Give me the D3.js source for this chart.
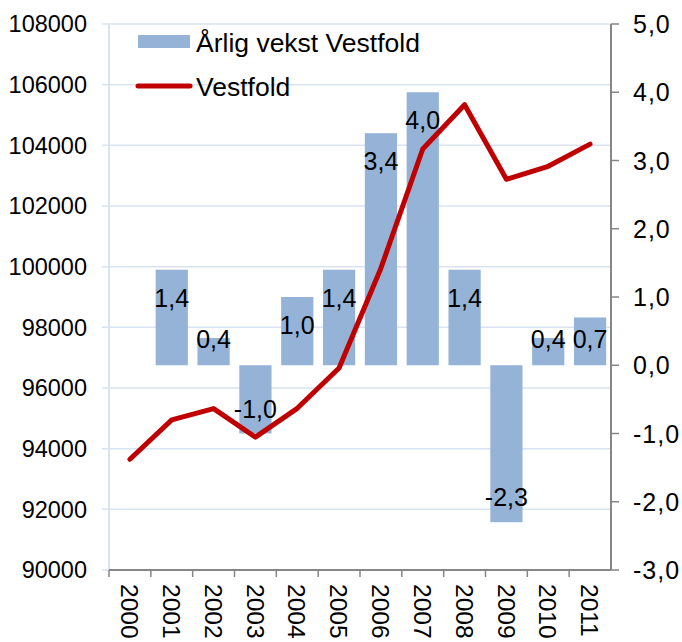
<!DOCTYPE html>
<html lang="no">
<head>
<meta charset="UTF-8">
<title>Vestfold</title>
<script src="https://cdn.jsdelivr.net/npm/d3@7/dist/d3.min.js"></script>
<style>
    body { margin: 0; background: #fff; }
    text { font-family: "Liberation Sans", Arial, sans-serif; fill: #000; }
</style>
</head>
<body>
<svg id="chart"></svg>
<script>

    // Data
    var years = ["2000", "2001", "2002", "2003", "2004", "2005", "2006", "2007", "2008", "2009", "2010", "2011"];
    var population = [93650, 94950, 95320, 94380, 95330, 96660, 99950, 103880, 105340, 102880, 103310, 104040];
    var growth = [null, 1.4, 0.4, -1.0, 1.0, 1.4, 3.4, 4.0, 1.4, -2.3, 0.4, 0.7];
    var leftTicks = [90000, 92000, 94000, 96000, 98000, 100000, 102000, 104000, 106000, 108000];
    var rightTicks = [-3, -2, -1, 0, 1, 2, 3, 4, 5];

    var width = 682, height = 642;
    var plotLeft = 109, plotRight = 611, plotTop = 24, plotBottom = 570;

    var svg = d3.select("#chart").attr("width", width).attr("height", height);

    var x = d3.scaleBand().domain(years).range([plotLeft, plotRight]).paddingInner(0.23).paddingOuter(0.115);
    var band = d3.scaleBand().domain(years).range([plotLeft, plotRight]);
    var yL = d3.scaleLinear().domain([90000, 108000]).range([plotBottom, plotTop]);
    var yR = d3.scaleLinear().domain([-3, 5]).range([plotBottom, plotTop]);

    var gridColor = "#d9e3f1";
    var axisColor = "#868686";

    // gridlines
    svg.append("g").selectAll("line")
        .data(leftTicks)
        .enter()
        .append("line")
        .attr("x1", plotLeft - 7)
        .attr("x2", plotRight)
        .attr("y1", function (d) { return yL(d); })
        .attr("y2", function (d) { return yL(d); })
        .attr("stroke", gridColor)
        .attr("stroke-width", 1.5);

    // left axis line
    svg.append("line")
        .attr("x1", plotLeft).attr("x2", plotLeft)
        .attr("y1", plotTop).attr("y2", plotBottom)
        .attr("stroke", gridColor).attr("stroke-width", 2);

    // left labels
    svg.append("g").selectAll("text")
        .data(leftTicks)
        .enter()
        .append("text")
        .attr("x", 87)
        .attr("y", function (d) { return yL(d); })
        .attr("dy", "0.36em")
        .attr("text-anchor", "end")
        .style("font-size", "23.5px")
        .text(function (d) { return d; });

    // bars
    var barData = years.map(function (y, i) { return {year: y, v: growth[i]}; })
        .filter(function (d) { return d.v !== null; });

    svg.append("g").selectAll("rect")
        .data(barData)
        .enter()
        .append("rect")
        .attr("x", function (d) { return x(d.year); })
        .attr("width", x.bandwidth())
        .attr("y", function (d) { return Math.min(yR(d.v), yR(0)); })
        .attr("height", function (d) { return Math.abs(yR(d.v) - yR(0)); })
        .attr("fill", "#95b3d7");

    // bar labels (inside end)
    var fmt = function (v) { return d3.format(".1f")(v).replace(".", ",").replace("−", "-"); };
    svg.append("g").selectAll("text")
        .data(barData)
        .enter()
        .append("text")
        .attr("x", function (d) { return band(d.year) + band.bandwidth() / 2; })
        .attr("y", function (d) {
            if (d.v >= 0) return Math.min(yR(d.v) + 28, yR(0) - 26);
            return yR(d.v) - 25;
        })
        .attr("dy", "0.36em")
        .attr("text-anchor", "middle")
        .style("font-size", "25px")
        .text(function (d) { return fmt(d.v); });

    // line
    var line = d3.line()
        .x(function (d, i) { return band(years[i]) + band.bandwidth() / 2; })
        .y(function (d) { return yL(d); });

    svg.append("path")
        .datum(population)
        .attr("d", line)
        .attr("fill", "none")
        .attr("stroke", "#c00000")
        .attr("stroke-width", 5)
        .attr("stroke-linejoin", "round")
        .attr("stroke-linecap", "round");

    // bottom axis
    var xAxis = svg.append("g");
    xAxis.append("line")
        .attr("x1", plotLeft).attr("x2", plotRight)
        .attr("y1", plotBottom).attr("y2", plotBottom)
        .attr("stroke", axisColor).attr("stroke-width", 2);
    xAxis.selectAll("line.tick")
        .data(years)
        .enter()
        .append("line")
        .attr("class", "tick")
        .attr("x1", function (d) { return band(d); })
        .attr("x2", function (d) { return band(d); })
        .attr("y1", plotBottom).attr("y2", plotBottom + 7)
        .attr("stroke", axisColor).attr("stroke-width", 1.5);
    xAxis.selectAll("text")
        .data(years)
        .enter()
        .append("text")
        .attr("transform", function (d) {
            return "translate(" + (band(d) + band.bandwidth() / 2) + "," + (plotBottom + 14) + ") rotate(90)";
        })
        .attr("dy", "0.36em")
        .style("font-size", "24.5px")
        .text(function (d) { return d; });

    // right axis
    var rAxis = svg.append("g");
    rAxis.append("line")
        .attr("x1", plotRight).attr("x2", plotRight)
        .attr("y1", plotTop).attr("y2", plotBottom)
        .attr("stroke", axisColor).attr("stroke-width", 2);
    rAxis.selectAll("line.tick")
        .data(rightTicks)
        .enter()
        .append("line")
        .attr("class", "tick")
        .attr("x1", plotRight).attr("x2", plotRight + 8)
        .attr("y1", function (d) { return yR(d); })
        .attr("y2", function (d) { return yR(d); })
        .attr("stroke", axisColor).attr("stroke-width", 1.5);
    rAxis.selectAll("text")
        .data(rightTicks)
        .enter()
        .append("text")
        .attr("x", 633)
        .attr("y", function (d) { return yR(d); })
        .attr("dy", "0.36em")
        .style("font-size", "25px")
        .style("letter-spacing", "1px")
        .text(function (d) { return fmt(d); });

    // legend
    var legend = svg.append("g");
    legend.append("rect")
        .attr("x", 138).attr("y", 35)
        .attr("width", 52).attr("height", 13)
        .attr("fill", "#95b3d7");
    legend.append("text")
        .attr("x", 196).attr("y", 42)
        .attr("dy", "0.36em")
        .style("font-size", "26.5px")
        .text("Årlig vekst Vestfold");
    legend.append("line")
        .attr("x1", 138).attr("x2", 190)
        .attr("y1", 86).attr("y2", 86)
        .attr("stroke", "#c00000").attr("stroke-width", 5)
        .attr("stroke-linecap", "round");
    legend.append("text")
        .attr("x", 196).attr("y", 86)
        .attr("dy", "0.36em")
        .style("font-size", "26.5px")
        .text("Vestfold");

</script>
</body>
</html>
